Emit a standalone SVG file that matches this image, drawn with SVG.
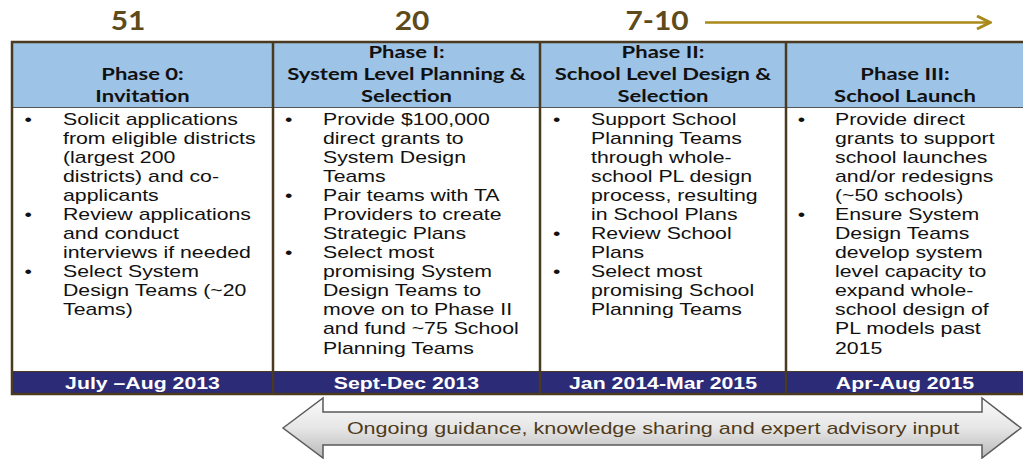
<svg xmlns="http://www.w3.org/2000/svg" width="1023" height="459" viewBox="0 0 1023 459">
<defs>
<linearGradient id="gArrow" x1="0" y1="0" x2="0" y2="1">
<stop offset="0" stop-color="#fbfbfb"/>
<stop offset="0.5" stop-color="#e6e6e6"/>
<stop offset="1" stop-color="#b9b9b9"/>
</linearGradient>
<marker id="mOpen" viewBox="0 0 16 16" refX="14" refY="8" markerWidth="16" markerHeight="16" markerUnits="userSpaceOnUse" orient="auto">
<path d="M1,1.5 L14,8 L1,14.5" fill="none" stroke="#A8891A" stroke-width="3"/>
</marker>
</defs>
<style>
.num{font-family:Lato,"Liberation Sans",sans-serif;font-weight:700;font-size:26px;fill:#5E4B1C;text-anchor:middle}
.hd{font-family:Lato,"Liberation Sans",sans-serif;font-weight:700;font-size:17.5px;fill:#111;text-anchor:middle}
.bd{font-family:"Liberation Sans",Arial,sans-serif;font-size:16px;fill:#111}
.dt{font-family:"Liberation Sans",Arial,sans-serif;font-weight:700;font-size:16px;fill:#fff;text-anchor:middle}
.ong{font-family:"Liberation Sans",Arial,sans-serif;font-size:16px;fill:#4F3B1A;text-anchor:middle}
.brd{stroke:#4A3A1F;stroke-width:2.5;fill:none}
</style>
<rect width="1023" height="459" fill="#fff"/>

<g id="counts">
<g transform="matrix(1.15,0,0,1,128,30)"><text class="num" x="0" y="0">51</text></g>
<g transform="matrix(1.15,0,0,1,412,30)"><text class="num" x="0" y="0">20</text></g>
<g transform="matrix(1.15,0,0,1,657,30)"><text class="num" x="0" y="0">7-10</text></g>
</g>

<g id="connectors">
<line x1="705" y1="22.5" x2="990" y2="22.5" stroke="#A8891A" stroke-width="2.5" marker-end="url(#mOpen)"/>
</g>

<g id="table">
<rect x="12" y="42" width="1020" height="65" fill="#9DC3E6"/>
<rect x="12" y="107" width="1020" height="265" fill="#fff"/>
<rect x="12" y="372" width="1020" height="21" fill="#2B2B77"/>
<line x1="12" y1="107.5" x2="1023" y2="107.5" stroke="#555" stroke-width="1"/>
<line x1="12" y1="371.5" x2="1023" y2="371.5" stroke="#4A3A1F" stroke-width="1"/>
<rect class="brd" x="12" y="42" width="1020" height="352"/>
<line class="brd" x1="273" y1="42" x2="273" y2="394"/>
<line class="brd" x1="540" y1="42" x2="540" y2="394"/>
<line class="brd" x1="786" y1="42" x2="786" y2="394"/>
</g>

<g id="phase0">
<g transform="matrix(1.26,0,0,1,142.5,0)">
<text class="hd" x="0" y="80">Phase 0:</text>
<text class="hd" x="0" y="102">Invitation</text>
</g>
<g transform="matrix(1.33,0,0,1,63,0)">
<text class="bd"><tspan x="-29" y="125.5">•</tspan><tspan x="-29" y="220.5">•</tspan><tspan x="-29" y="277.5">•</tspan></text>
<text class="bd"><tspan x="0" y="125.5">Solicit applications</tspan><tspan x="0" dy="19">from eligible districts</tspan><tspan x="0" dy="19">(largest 200</tspan><tspan x="0" dy="19">districts) and co-</tspan><tspan x="0" dy="19">applicants</tspan><tspan x="0" dy="19">Review applications</tspan><tspan x="0" dy="19">and conduct</tspan><tspan x="0" dy="19">interviews if needed</tspan><tspan x="0" dy="19">Select System</tspan><tspan x="0" dy="19">Design Teams (~20</tspan><tspan x="0" dy="19">Teams)</tspan></text>
</g>
<g transform="matrix(1.33,0,0,1,142.5,0)"><text class="dt" x="0" y="389">July –Aug 2013</text></g>
</g>

<g id="phase1">
<g transform="matrix(1.26,0,0,1,406.5,0)">
<text class="hd" x="0" y="58">Phase I:</text>
<text class="hd" x="0" y="80">System Level Planning &amp;</text>
<text class="hd" x="0" y="102">Selection</text>
</g>
<g transform="matrix(1.33,0,0,1,323,0)">
<text class="bd"><tspan x="-28.5" y="125.5">•</tspan><tspan x="-28.5" y="201.5">•</tspan><tspan x="-28.5" y="258.5">•</tspan></text>
<text class="bd"><tspan x="0" y="125.5">Provide $100,000</tspan><tspan x="0" dy="19">direct grants to</tspan><tspan x="0" dy="19">System Design</tspan><tspan x="0" dy="19">Teams</tspan><tspan x="0" dy="19">Pair teams with TA</tspan><tspan x="0" dy="19">Providers to create</tspan><tspan x="0" dy="19">Strategic Plans</tspan><tspan x="0" dy="19">Select most</tspan><tspan x="0" dy="19">promising System</tspan><tspan x="0" dy="19">Design Teams to</tspan><tspan x="0" dy="19">move on to Phase II</tspan><tspan x="0" dy="19">and fund ~75 School</tspan><tspan x="0" dy="19">Planning Teams</tspan></text>
</g>
<g transform="matrix(1.33,0,0,1,406.5,0)"><text class="dt" x="0" y="389">Sept-Dec 2013</text></g>
</g>

<g id="phase2">
<g transform="matrix(1.26,0,0,1,663,0)">
<text class="hd" x="0" y="58">Phase II:</text>
<text class="hd" x="0" y="80">School Level Design &amp;</text>
<text class="hd" x="0" y="102">Selection</text>
</g>
<g transform="matrix(1.33,0,0,1,591,0)">
<text class="bd"><tspan x="-28.5" y="125.5">•</tspan><tspan x="-28.5" y="239.5">•</tspan><tspan x="-28.5" y="277.5">•</tspan></text>
<text class="bd"><tspan x="0" y="125.5">Support School</tspan><tspan x="0" dy="19">Planning Teams</tspan><tspan x="0" dy="19">through whole-</tspan><tspan x="0" dy="19">school PL design</tspan><tspan x="0" dy="19">process, resulting</tspan><tspan x="0" dy="19">in School Plans</tspan><tspan x="0" dy="19">Review School</tspan><tspan x="0" dy="19">Plans</tspan><tspan x="0" dy="19">Select most</tspan><tspan x="0" dy="19">promising School</tspan><tspan x="0" dy="19">Planning Teams</tspan></text>
</g>
<g transform="matrix(1.33,0,0,1,663,0)"><text class="dt" x="0" y="389">Jan 2014-Mar 2015</text></g>
</g>

<g id="phase3">
<g transform="matrix(1.26,0,0,1,905,0)">
<text class="hd" x="0" y="80">Phase III:</text>
<text class="hd" x="0" y="102">School Launch</text>
</g>
<g transform="matrix(1.33,0,0,1,835,0)">
<text class="bd"><tspan x="-28" y="125.5">•</tspan><tspan x="-28" y="220.5">•</tspan></text>
<text class="bd"><tspan x="0" y="125.5">Provide direct</tspan><tspan x="0" dy="19">grants to support</tspan><tspan x="0" dy="19">school launches</tspan><tspan x="0" dy="19">and/or redesigns</tspan><tspan x="0" dy="19">(~50 schools)</tspan><tspan x="0" dy="19">Ensure System</tspan><tspan x="0" dy="19">Design Teams</tspan><tspan x="0" dy="19">develop system</tspan><tspan x="0" dy="19">level capacity to</tspan><tspan x="0" dy="19">expand whole-</tspan><tspan x="0" dy="19">school design of</tspan><tspan x="0" dy="19">PL models past</tspan><tspan x="0" dy="19">2015</tspan></text>
</g>
<g transform="matrix(1.33,0,0,1,905,0)"><text class="dt" x="0" y="389">Apr-Aug 2015</text></g>
</g>

<g id="ongoing">
<polygon points="283,428 323,398 323,412 982,412 982,398 1021,428 982,458 982,445 323,445 323,458" fill="url(#gArrow)" stroke="#5a5a5a" stroke-width="1.5" stroke-linejoin="miter"/>
<g transform="matrix(1.345,0,0,1,653,0)"><text class="ong" x="0" y="434">Ongoing guidance, knowledge sharing and expert advisory input</text></g>
</g>
</svg>
